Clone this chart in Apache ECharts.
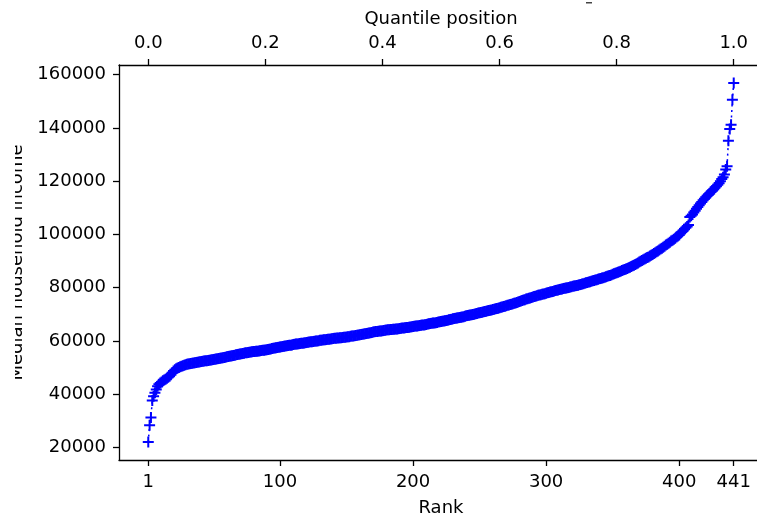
<!DOCTYPE html>
<html><head><meta charset="utf-8">
<script src="https://cdn.jsdelivr.net/npm/echarts@6/dist/echarts.min.js"></script>
<style>html,body{margin:0;padding:0;background:#fff}#c{width:757px;height:519px}</style>
</head><body><div id="c"></div>
<script>
// Median household income, sorted ascending (rank 1..441)
const incomes = [
22000, 28300, 31200, 37600, 39200, 40500, 41700, 43000, 43700, 44200,
44600, 45000, 45300, 45600, 46000, 46300, 46700, 47300, 48000, 48700,
49200, 49500, 49800, 50000, 50300, 50500, 50700, 50850, 51000, 51200,
51300, 51400, 51500, 51600, 51700, 51800, 51900, 52000, 52100, 52200,
52300, 52350, 52400, 52500, 52550, 52600, 52700, 52800, 52900, 53000,
53100, 53200, 53300, 53400, 53500, 53600, 53700, 53800, 53900, 54000,
54100, 54200, 54300, 54450, 54550, 54650, 54750, 54850, 55000, 55100,
55200, 55300, 55400, 55500, 55550, 55650, 55750, 55800, 55900, 56000,
56050, 56100, 56150, 56250, 56300, 56400, 56450, 56500, 56600, 56700,
56800, 56900, 57000, 57100, 57200, 57300, 57400, 57500, 57600, 57700,
57800, 57900, 58000, 58100, 58150, 58250, 58350, 58400, 58500, 58600,
58700, 58800, 58850, 58900, 59000, 59100, 59150, 59200, 59300, 59400,
59500, 59550, 59650, 59700, 59800, 59900, 59950, 60000, 60100, 60200,
60250, 60300, 60400, 60450, 60500, 60600, 60650, 60700, 60800, 60900,
60950, 61000, 61050, 61100, 61150, 61200, 61250, 61350, 61400, 61500,
61550, 61600, 61700, 61800, 61850, 61950, 62000, 62100, 62200, 62300,
62400, 62500, 62600, 62700, 62800, 62900, 63000, 63100, 63200, 63300,
63400, 63500, 63550, 63600, 63700, 63750, 63850, 63900, 64000, 64100,
64150, 64200, 64250, 64300, 64350, 64400, 64450, 64500, 64600, 64700,
64750, 64800, 64850, 64900, 65000, 65050, 65100, 65200, 65300, 65400,
65500, 65550, 65600, 65700, 65800, 65850, 65950, 66000, 66100, 66200,
66300, 66400, 66500, 66600, 66700, 66750, 66850, 66950, 67100, 67200,
67300, 67400, 67500, 67600, 67700, 67800, 67900, 68000, 68150, 68300,
68400, 68500, 68600, 68700, 68800, 68900, 69000, 69100, 69250, 69400,
69500, 69600, 69750, 69850, 69950, 70050, 70200, 70300, 70450, 70600,
70700, 70800, 70950, 71050, 71150, 71300, 71400, 71500, 71650, 71800,
71900, 72050, 72200, 72300, 72450, 72600, 72750, 72900, 73050, 73200,
73350, 73500, 73650, 73800, 73950, 74100, 74250, 74400, 74600, 74800,
75000, 75200, 75350, 75500, 75700, 75850, 76000, 76150, 76300, 76500,
76650, 76800, 76950, 77100, 77250, 77350, 77500, 77600, 77750, 77900,
78050, 78200, 78350, 78500, 78600, 78750, 78900, 79000, 79150, 79300,
79400, 79500, 79650, 79750, 79850, 79950, 80100, 80200, 80350, 80500,
80600, 80750, 80850, 80950, 81100, 81200, 81350, 81500, 81650, 81800,
81950, 82100, 82250, 82400, 82550, 82700, 82850, 83000, 83150, 83300,
83450, 83600, 83750, 83950, 84100, 84300, 84450, 84600, 84800, 85000,
85200, 85400, 85600, 85800, 86000, 86200, 86400, 86600, 86800, 87000,
87200, 87450, 87700, 87950, 88200, 88450, 88700, 88950, 89300, 89600,
89900, 90200, 90450, 90750, 91000, 91300, 91550, 91850, 92200, 92500,
92800, 93150, 93500, 93800, 94150, 94500, 94850, 95200, 95600, 96000,
96350, 96700, 97100, 97500, 97850, 98200, 98600, 99000, 99400, 99800,
100400, 100900, 101500, 102000, 102500, 103000, 103500, 106500, 107000, 107500,
108200, 108900, 109600, 110300, 111000, 111600, 112200, 112800, 113400, 114000,
114500, 115000, 115500, 116000, 116500, 117000, 117600, 118100, 118700, 119200,
120000, 120800, 121500, 122500, 124400, 125600, 135200, 139600, 141200, 150600, 156900
];
const rankTicks = [1, 100, 200, 300, 400, 441];
const quantileTicks = [0.0, 0.2, 0.4, 0.6, 0.8, 1.0];
const incomeTicks = [20000, 40000, 60000, 80000, 100000, 120000, 140000, 160000];

const N = incomes.length;
const ranks = incomes.map((_, i) => i + 1);
const data = ranks.map((r, i) => [r, incomes[i]]);

const FONT = 'DejaVu Sans';
const FS = 18;
const lineStyle = { color: '#000', width: 1.3 };
const tick = { show: true, inside: false, length: 6, lineStyle: { color: '#000', width: 1.3 } };

// matplotlib-like 5% margins
const rMin = 1 - 0.05 * (N - 1), rMax = N + 0.05 * (N - 1);
const yMinV = Math.min(...incomes), yMaxV = Math.max(...incomes);
const yPad = 0.05 * (yMaxV - yMinV);

const plus = 'path://M4.5,0H6.5V4.5H11V6.5H6.5V11H4.5V6.5H0V4.5H4.5Z';

const chart = echarts.init(document.getElementById('c'), null, { renderer: 'canvas' });
chart.setOption({
  animation: false,
  backgroundColor: '#fff',
  grid: { left: 119, right: -6, top: 65, bottom: 59, containLabel: false, outerBoundsMode: 'none' },
  xAxis: [
    {
      type: 'value', position: 'bottom', min: rMin, max: rMax,
      name: 'Rank', nameLocation: 'middle', nameGap: 39,
      nameTextStyle: { fontFamily: FONT, fontSize: FS, color: '#000' },
      axisLine: { show: true, onZero: false, lineStyle },
      axisTick: Object.assign({ customValues: rankTicks }, tick),
      axisLabel: { customValues: rankTicks, margin: 13, fontFamily: FONT, fontSize: FS, color: '#000', formatter: v => String(v) },
      splitLine: { show: false }
    },
    {
      type: 'value', position: 'top', min: (rMin - 1) / (N - 1), max: (rMax - 1) / (N - 1),
      name: 'Quantile position', nameLocation: 'middle', nameGap: 37,
      nameTextStyle: { fontFamily: FONT, fontSize: FS, color: '#000' },
      axisLine: { show: true, onZero: false, lineStyle },
      axisTick: Object.assign({ customValues: quantileTicks }, tick),
      axisLabel: { customValues: quantileTicks, margin: 13, fontFamily: FONT, fontSize: FS, color: '#000', formatter: v => v.toFixed(1) },
      splitLine: { show: false }
    }
  ],
  yAxis: {
    type: 'value', min: yMinV - yPad, max: yMaxV + yPad,
    name: 'Median household income', nameLocation: 'middle', nameGap: 92, nameRotate: 90,
    nameTextStyle: { fontFamily: FONT, fontSize: FS, color: '#000' },
    axisLine: { show: true, onZero: false, lineStyle },
    axisTick: Object.assign({ customValues: incomeTicks }, tick),
    axisLabel: { customValues: incomeTicks, margin: 13, fontFamily: FONT, fontSize: FS, color: '#000', formatter: v => String(v) },
    splitLine: { show: false }
  },
  series: [{
    type: 'line', xAxisIndex: 0, data: data,
    symbol: plus, symbolSize: 11, showSymbol: true, showAllSymbol: true,
    itemStyle: { color: '#0000ff' },
    lineStyle: { color: '#0000ff', width: 1.5, type: [2, 3.5] },
    emphasis: { disabled: true }
  }],
  graphic: [
    { type: 'rect', left: 0, top: 60, shape: { width: 15, height: 400 }, style: { fill: '#fff' }, z: 100 },
    { type: 'rect', left: 586, top: 2, shape: { width: 6, height: 1.5 }, style: { fill: '#444' }, z: 100 }
  ]
});
</script>
</body></html>
